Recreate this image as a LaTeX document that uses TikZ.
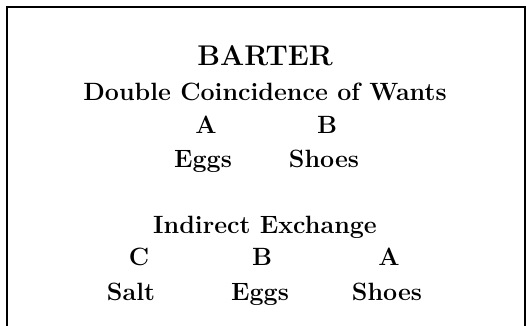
\documentclass[tikz,border=0pt]{standalone}
\usepackage{tikz}
\usetikzlibrary{positioning}
\tikzset{
  titulo/.style={font=\bfseries\fontsize{28.5}{34}\selectfont, anchor=base, inner sep=0pt},
  rotulo/.style={font=\bfseries\fontsize{25}{30}\selectfont, anchor=base, inner sep=0pt},
  moldura/.style={line width=2.2pt},
}
\begin{document}
\begin{tikzpicture}[x=1pt, y=1pt]
  \useasboundingbox (0,0) rectangle (527,325);
  % frame, open at the bottom
  \draw[moldura] (7,-5) -- (7,318) -- (525,318) -- (525,-5);
  % heading
  \node[titulo] (barter) at (265,260) {BARTER};
  \node[rotulo] (double) at (265,225) {Double Coincidence of Wants};
  % direct trade
  \node[rotulo] (pa) at (206,192) {A};
  \node[rotulo] (pb) at (327,192) {B};
  \node[rotulo] (eggs) at (203,158) {Eggs};
  \node[rotulo] (shoes) at (324,158) {Shoes};
  % indirect trade
  \node[rotulo] (indirect) at (265,92) {Indirect Exchange};
  \node[rotulo] (ic) at (139,60) {C};
  \node[rotulo] (ib) at (262,60) {B};
  \node[rotulo] (ia) at (389,60) {A};
  \node[rotulo] (salt) at (131,25) {Salt};
  \node[rotulo] (ieggs) at (260,25) {Eggs};
  \node[rotulo] (ishoes) at (387,25) {Shoes};
\end{tikzpicture}
\end{document}
